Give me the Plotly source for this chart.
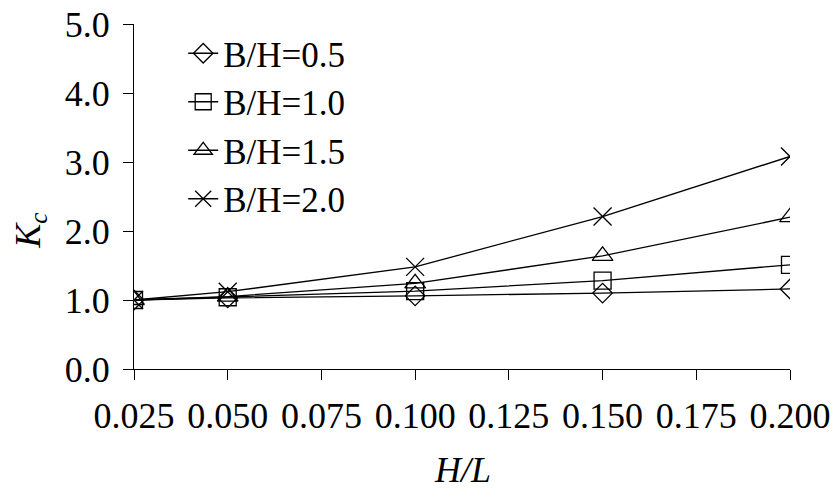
import plotly.graph_objects as go

x_vals = [0.025, 0.05, 0.10, 0.15, 0.20]
series_names = ["B/H=0.5", "B/H=1.0", "B/H=1.5", "B/H=2.0"]
kc_05 = [1.00, 1.03, 1.06, 1.10, 1.16]
kc_10 = [1.00, 1.04, 1.13, 1.28, 1.51]
kc_15 = [1.00, 1.05, 1.24, 1.64, 2.20]
kc_20 = [1.00, 1.12, 1.48, 2.21, 3.08]
x_ticks = [0.025, 0.05, 0.075, 0.1, 0.125, 0.15, 0.175, 0.2]
x_tick_labels = ["0.025", "0.050", "0.075", "0.100", "0.125", "0.150", "0.175", "0.200"]
y_ticks = [0, 1, 2, 3, 4, 5]
y_tick_labels = ["0.0", "1.0", "2.0", "3.0", "4.0", "5.0"]

FONT = "Liberation Serif, Times New Roman, serif"
symbols = ["diamond-open", "square-open", "triangle-up-open", "x-thin-open"]
sizes = [15, 17, 18, 18]

fig = go.Figure()
for name, ys, sym, sz in zip(series_names, [kc_05, kc_10, kc_15, kc_20], symbols, sizes):
    fig.add_trace(go.Scatter(
        x=x_vals, y=ys, name=name, mode="lines+markers",
        line=dict(color="black", width=1.3),
        marker=dict(symbol=sym, size=sz, color="black",
                    line=dict(color="black", width=1.3)),
    ))

fig.update_layout(
    width=835, height=499,
    margin=dict(l=134, r=45, t=24, b=130, autoexpand=False),
    paper_bgcolor="white", plot_bgcolor="white",
    font=dict(family=FONT, size=36, color="black"),
    showlegend=True,
    legend=dict(x=0.075, y=1.0, xanchor="left", yanchor="top",
                bgcolor="rgba(0,0,0,0)", font=dict(size=35),
                itemwidth=30, tracegroupgap=0),
    xaxis=dict(range=[0.025, 0.2], tickvals=x_ticks, ticktext=x_tick_labels,
               showgrid=False, zeroline=False, showline=True, linecolor="black",
               linewidth=1, ticks="outside", ticklen=10, tickcolor="black",
               ticklabelstandoff=5, automargin=False, ticklabeloverflow="allow"),
    yaxis=dict(range=[0, 5], tickvals=y_ticks, ticktext=y_tick_labels,
               showgrid=False, zeroline=False, showline=True, linecolor="black",
               linewidth=1, ticks="outside", ticklen=10, tickcolor="black",
               ticklabelstandoff=6, automargin=False, ticklabeloverflow="allow"),
    annotations=[
        dict(text="<i>K<sub>c</sub></i>", xref="paper", yref="paper",
             x=-0.159, y=0.40, showarrow=False, textangle=-90,
             font=dict(family=FONT, size=36), xanchor="center", yanchor="middle"),
        dict(text="<i>H/L</i>", xref="paper", yref="paper",
             x=0.5, y=-0.293, showarrow=False,
             font=dict(family=FONT, size=36), xanchor="center", yanchor="middle"),
    ],
)

fig.write_html("out.html", config={"displayModeBar": False},
               post_script="document.body.style.margin='0';")
